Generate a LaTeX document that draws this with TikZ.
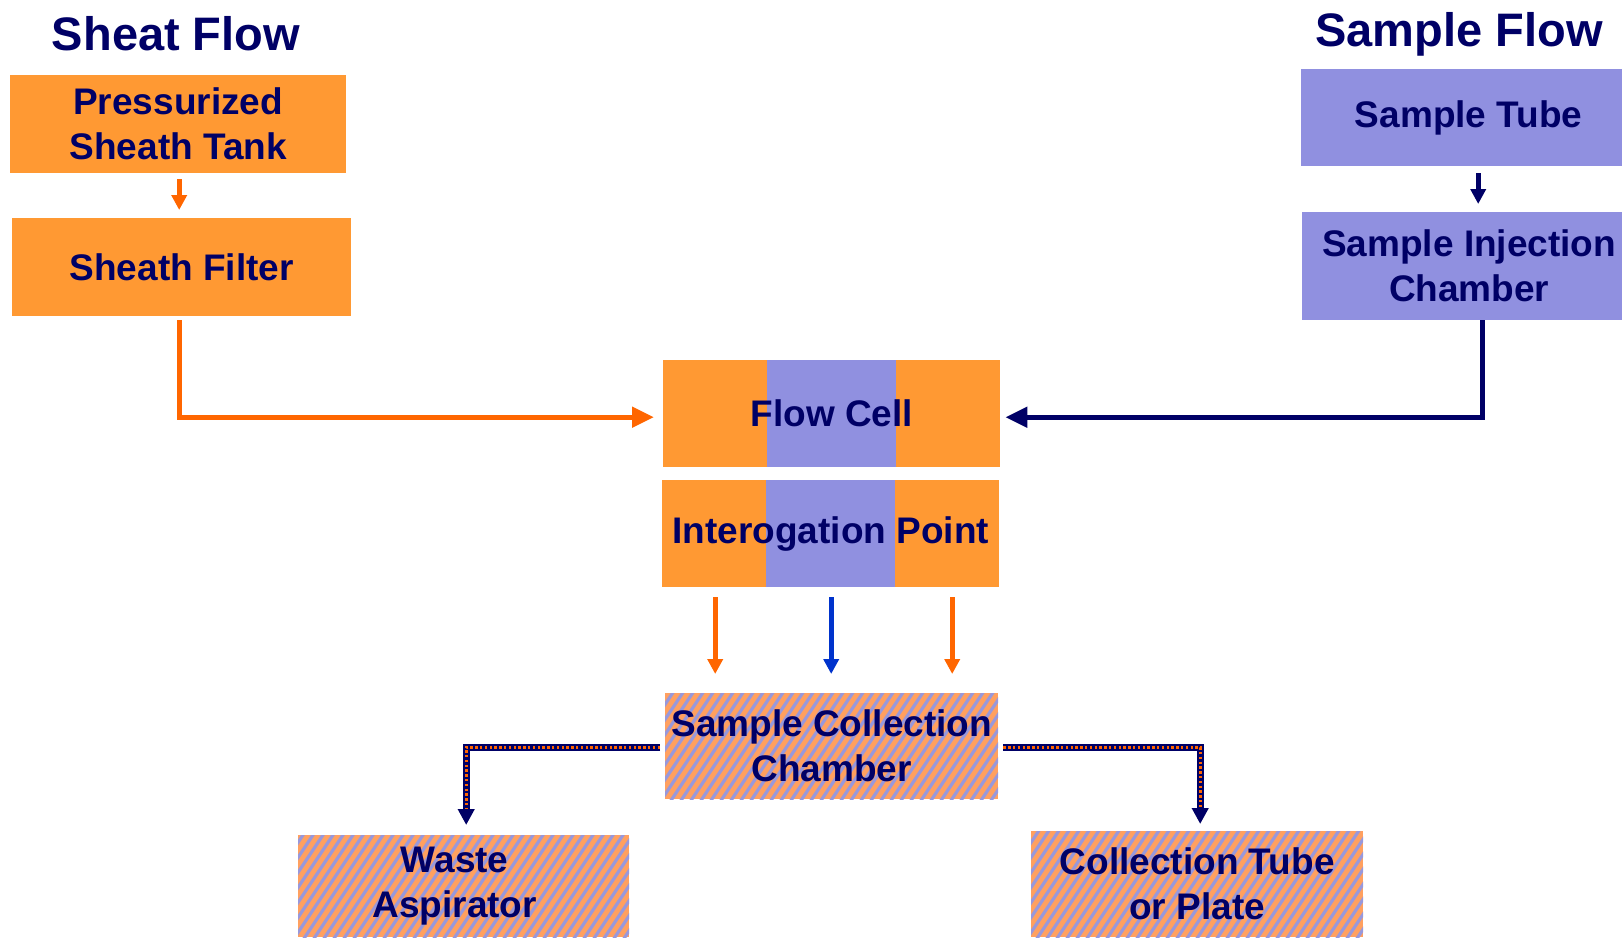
\documentclass[tikz,border=0pt]{standalone}
\usepackage{fontspec}
\setmainfont{Liberation Sans}
\usetikzlibrary{arrows.meta,calc}
\definecolor{boxor}{HTML}{FF9933}
\definecolor{boxpu}{HTML}{9090E0}
\definecolor{txt}{HTML}{000066}
\definecolor{arror}{HTML}{FF6600}
\definecolor{arrbl}{HTML}{0033CC}
\definecolor{hor}{HTML}{FFA060}
\definecolor{hpu}{HTML}{9898DC}
\tikzset{
  base/.style={anchor=north west, inner sep=0pt, text=txt, align=center,
    font=\bfseries\fontsize{37}{45}\selectfont},
  obox/.style={base, fill=boxor},
  pbox/.style={base, fill=boxpu},
  splitbox/.style={base, fill=boxor, path picture={
    \fill[boxpu] ([xshift=104pt]path picture bounding box.south west) rectangle ([xshift=233pt]path picture bounding box.north west);}},
  hatchbox/.style={base, fill=hor, path picture={
    \foreach \i in {-200,-190,...,360}
      \draw[hpu, line width=3.1pt] ([xshift=\i pt, yshift=-10pt]path picture bounding box.south west) -- ++(100pt,150pt);}},
  title/.style={text=txt, font=\bfseries\fontsize{47}{50}\selectfont, inner sep=0pt},
  oarrow/.style={draw=arror, line width=5pt, -{Triangle[length=15pt,width=15pt]}},
  narrow/.style={draw=txt, line width=5pt, -{Triangle[length=15pt,width=15pt]}},
  barrow/.style={draw=arrbl, line width=5pt, -{Triangle[length=15pt,width=15pt]}},
  bigo/.style={draw=arror, line width=5pt, -{Triangle[length=22pt,width=20pt]}},
  bign/.style={draw=txt, line width=5pt, -{Triangle[length=22pt,width=20pt]}},
  checkbase/.style={draw=txt, line width=7pt, -{Triangle[length=16pt,width=16pt]}},
  checktop/.style={draw=arror, line width=3.4pt, dash pattern=on 2.4pt off 2.4pt},
}
\begin{document}
\begin{tikzpicture}[x=1pt,y=-1pt]
\useasboundingbox[fill=white] (0,0) rectangle (1622,937);
% titles
\node[title] (t1) at (176,34) {Sheat Flow};
\node[title] (t2) at (1459,34) {Sample Flow};
% sheath side
\node[obox, minimum width=336pt, minimum height=98pt] (tank) at (10,75) {Pressurized\\Sheath Tank};
\node[obox, minimum width=339pt, minimum height=98pt] (filter) at (12,218) {Sheath Filter};
% sample side
\node[pbox, minimum width=321pt, minimum height=97pt] (tube) at (1301,69) {\hspace*{14pt}Sample Tube};
\node[pbox, minimum width=320pt, minimum height=108pt] (inject) at (1302,212) {\hspace*{14pt}Sample Injection\\\hspace*{14pt}Chamber};
% center
\node[splitbox, minimum width=337pt, minimum height=107pt] (flow) at (663,360) {Flow Cell};
\node[splitbox, minimum width=337pt, minimum height=107pt] (interog) at (662,480) {Interogation Point};
\node[hatchbox, minimum width=333pt, minimum height=106pt] (collect) at (665,693) {Sample Collection\\Chamber};
\node[hatchbox, minimum width=331pt, minimum height=102pt] (waste) at (298,835) {Waste\hspace*{18pt}\\Aspirator\hspace*{18pt}};
\node[hatchbox, minimum width=332pt, minimum height=106pt] (coll) at (1031,831) {Collection Tube\\or Plate};
% connectors
\draw[oarrow, shorten <=6pt, shorten >=8pt] ([xshift=1pt]tank.south) -- ([xshift=1pt]tank.south |- filter.north);
\draw[bigo] ([xshift=-2.5pt,yshift=-4pt]filter.south) |- ([xshift=-9pt,yshift=-3.5pt]flow.west);
\draw[narrow, shorten <=7pt, shorten >=8pt] ([xshift=16.5pt]tube.south) -- ([xshift=16.5pt]tube.south |- inject.north);
\draw[bign] ([xshift=20pt]inject.south) |- ([xshift=5pt,yshift=-3.5pt]flow.east);
\draw[oarrow, shorten <=10pt, shorten >=19pt] ([xshift=-115.5pt]interog.south) -- ([xshift=-115.5pt]interog.south |- collect.north);
\draw[barrow, shorten <=10pt, shorten >=19pt] ([xshift=0.5pt]interog.south) -- ([xshift=0.5pt]interog.south |- collect.north);
\draw[oarrow, shorten <=10pt, shorten >=19pt] ([xshift=121.5pt]interog.south) -- ([xshift=121.5pt]interog.south |- collect.north);
% hatched connectors
\draw[checkbase, shorten >=10pt] ([xshift=-5pt,yshift=-1pt]collect.west) -| ([xshift=2.5pt]waste.north);
\draw[checktop, shorten >=26pt] ([xshift=-5pt,yshift=-1pt]collect.west) -| ([xshift=2.5pt]waste.north);
\draw[checkbase, shorten >=7pt] ([xshift=5pt,yshift=-1pt]collect.east) -| ([xshift=3pt]coll.north);
\draw[checktop, shorten >=23pt] ([xshift=5pt,yshift=-1pt]collect.east) -| ([xshift=3pt]coll.north);
\end{tikzpicture}
\end{document}
